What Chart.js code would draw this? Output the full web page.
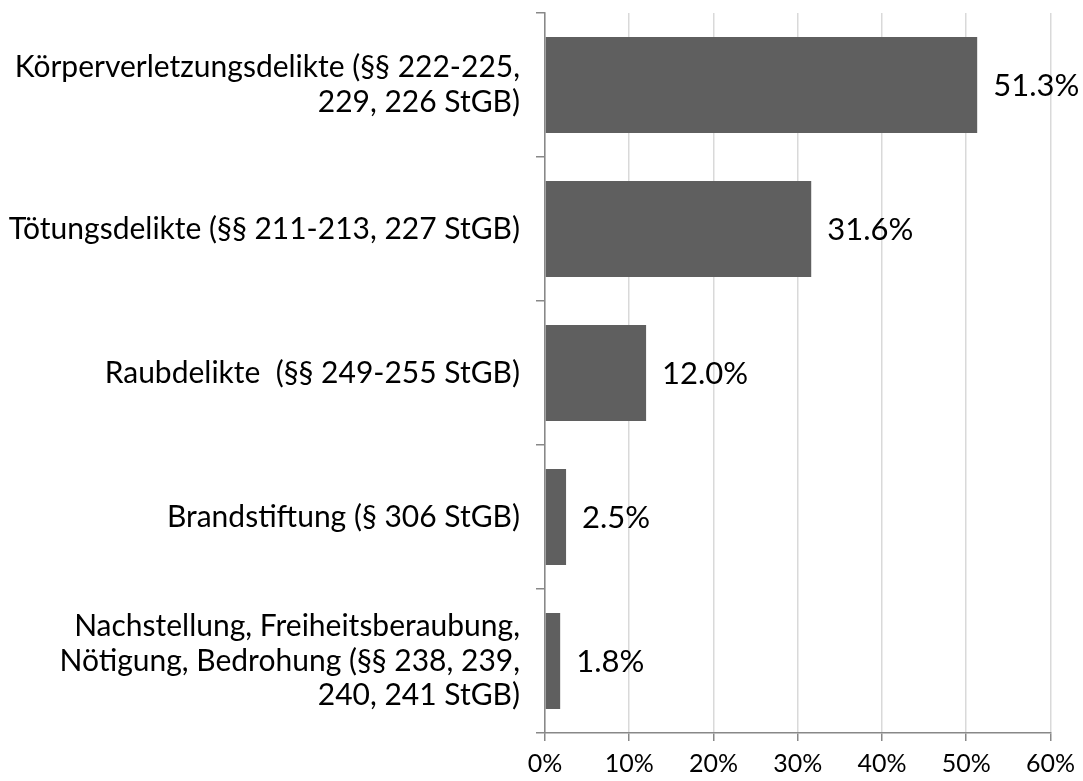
<!DOCTYPE html>
<html>
<head>
<meta charset="utf-8">
<script src="https://cdn.jsdelivr.net/npm/chart.js@4/dist/chart.umd.min.js"></script>
<style>
html,body{margin:0;padding:0;background:#fff;}
#wrap{width:1083px;height:781px;position:relative;}
</style>
</head>
<body>
<div id="wrap"><canvas id="c" width="1083" height="781"></canvas></div>
<script>
const categories = [
  ["Körperverletzungsdelikte (§§ 222-225,", "229, 226 StGB)"],
  ["Tötungsdelikte (§§ 211-213, 227 StGB)"],
  ["Raubdelikte  (§§ 249-255 StGB)"],
  ["Brandstiftung (§ 306 StGB)"],
  ["Nachstellung, Freiheitsberaubung,", "Nötigung, Bedrohung (§§ 238, 239,", "240, 241 StGB)"]
];
const values = [51.3, 31.6, 12.0, 2.5, 1.8];
const valueLabels = ["51.3%", "31.6%", "12.0%", "2.5%", "1.8%"];
const xTicks = [0, 10, 20, 30, 40, 50, 60];

const FONT = "Lato, 'Open Sans', sans-serif";

const dataLabelPlugin = {
  id: 'dataLabels',
  afterDatasetsDraw(chart) {
    const ctx = chart.ctx;
    const meta = chart.getDatasetMeta(0);
    ctx.save();
    ctx.font = "31px " + FONT;
    ctx.fillStyle = "#000";
    ctx.textAlign = "left";
    ctx.textBaseline = "middle";
    meta.data.forEach((bar, i) => {
      ctx.fillText(valueLabels[i], bar.x + 16, bar.y + 1);
    });
    ctx.restore();
  }
};

new Chart(document.getElementById('c'), {
  type: 'bar',
  data: {
    labels: categories,
    datasets: [{
      data: values,
      backgroundColor: '#5f5f5f',
      borderWidth: 0,
      barPercentage: 0.667,
      categoryPercentage: 1.0
    }]
  },
  options: {
    indexAxis: 'y',
    responsive: false,
    animation: false,
    devicePixelRatio: 1,
    layout: { padding: { top: 13, right: 32, bottom: 0, left: 0 } },
    plugins: { legend: { display: false }, tooltip: { enabled: false } },
    scales: {
      x: {
        min: 0, max: 60,
        afterBuildTicks: s => { s.ticks = xTicks.map(v => ({ value: v })); },
        afterFit: s => { s.height = 48; },
        ticks: {
          callback: v => v + '%',
          font: { family: FONT, size: 25 },
          color: '#000',
          padding: 8
        },
        grid: { color: '#d9d9d9', lineWidth: 1.5, tickColor: '#888', tickLength: 8 },
        border: { color: '#888', width: 1.5 }
      },
      y: {
        afterFit: s => { s.width = 545; s.paddingTop = 0; s.paddingBottom = 0; },
        ticks: {
          font: { family: FONT, size: 30, lineHeight: 1.15 },
          color: '#000',
          padding: 16,
          autoSkip: false
        },
        grid: { drawOnChartArea: false, tickColor: '#888', tickLength: 9, lineWidth: 1.5, offset: true },
        border: { color: '#888', width: 1.5 }
      }
    }
  },
  plugins: [dataLabelPlugin]
});
</script>
</body>
</html>
